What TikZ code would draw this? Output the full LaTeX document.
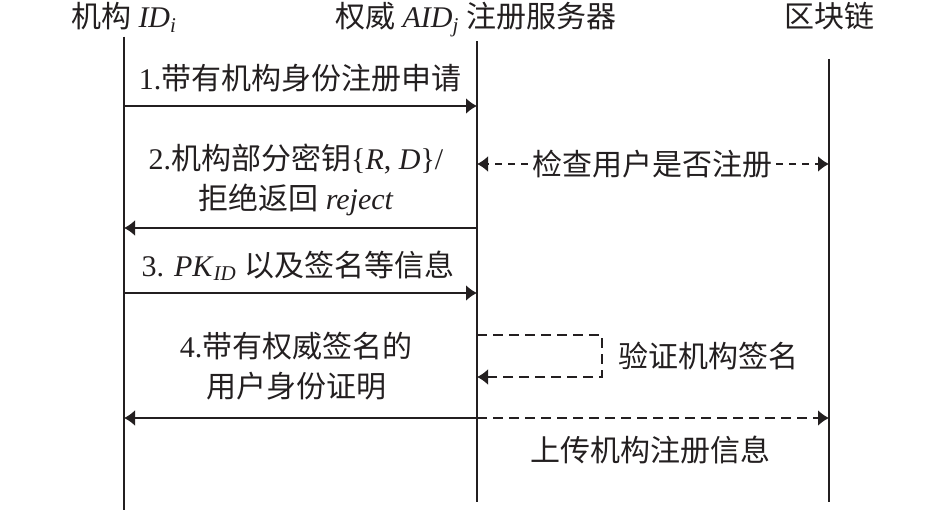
\documentclass[tikz,border=0pt]{standalone}
\usepackage{fontspec}
\setmainfont{Liberation Serif}
\newfontfamily\cjk{Noto Sans CJK SC}
\usepackage{tikz}
\usetikzlibrary{arrows.meta,positioning,calc}
\definecolor{seqline}{RGB}{35,31,32}
\newcommand{\zh}[1]{{\cjk #1}}
\tikzstyle{lifeline} = [line width=1pt,color=seqline]
\tikzstyle{msg} = [line width=1pt,-{Latex[length=5.5pt,width=8pt]},color=seqline]
\tikzstyle{dmsg} = [msg,dash pattern=on 5pt off 3pt]
\tikzstyle{msgtext} = [font=\fontsize{15}{20}\selectfont,align=center,inner sep=2pt,text=seqline]

\begin{document}
\begin{tikzpicture}[x=0.5pt,y=0.5pt]
\useasboundingbox (0,0) rectangle (945,514);

% Heads
\node[msgtext,anchor=base] (hA) at (124,486) {\zh{机构} \textit{ID}\textsubscript{\textit{i}}};
\node[msgtext,anchor=base] (hB) at (476,486) {\zh{权威} \textit{AID}\textsubscript{\textit{j}} \zh{注册服务器}};
\node[msgtext,anchor=base] (hC) at (829,486) {\zh{区块链}};

% Lifelines
\coordinate (eA) at (124,4);
\coordinate (eB) at (477,12);
\coordinate (eC) at (829,12);
\draw[lifeline] (hA.south -| eA) -- (eA);
\draw[lifeline] (hB.south -| eB) -- (eB);
\draw[lifeline,shorten <=12pt] (hC.south -| eC) -- (eC);

% 1. request
\coordinate (a1) at (124,408);
\coordinate (b1) at (477,408);
\draw[msg] (a1) -- (b1);
\node[msgtext] (m1) at (300,436) {1.\zh{带有机构身份注册申请}};

% check on chain
\coordinate (b2) at (477,350);
\coordinate (c2) at (829,350);
\node[msgtext] (chk) at (652,350) {\zh{检查用户是否注册}};
\draw[dmsg,dash pattern=on 3.5pt off 3pt] (chk) -- (b2);
\draw[dmsg,dash pattern=on 3.5pt off 3pt] (chk) -- (c2);

% 2. partial key
\coordinate (a3) at (124,286);
\coordinate (b3) at (477,286);
\draw[msg] (b3) -- (a3);
\node[msgtext] (m2) at (296,334) {2.\zh{机构部分密钥}\{\textit{R}, \textit{D}\}/\\\zh{拒绝返回} \textit{reject}};

% 3. public key
\coordinate (a4) at (124,221);
\coordinate (b4) at (477,221);
\draw[msg] (a4) -- (b4);
\node[msgtext] (m3) at (298,248) {3. \textit{PK}\textsubscript{\textit{ID}} \zh{以及签名等信息}};

% self check
\coordinate (b5) at (477,179);
\coordinate (r5) at (602,179);
\coordinate (r6) at (602,137);
\coordinate (b6) at (477,137);
\draw[dmsg] (b5) -- (r5) -- (r6) -- (b6);
\node[msgtext,right=6pt of $(r5)!0.5!(r6)$] (vfy) {\zh{验证机构签名}};

% 4. certificate + upload
\coordinate (a7) at (124,96);
\coordinate (b7) at (477,96);
\coordinate (c7) at (829,96);
\draw[msg] (b7) -- (a7);
\draw[dmsg] (b7) -- (c7);
\node[msgtext] (m4) at (296,148) {4.\zh{带有权威签名的}\\\zh{用户身份证明}};
\node[msgtext] (up) at (650,64) {\zh{上传机构注册信息}};
\end{tikzpicture}
\end{document}
